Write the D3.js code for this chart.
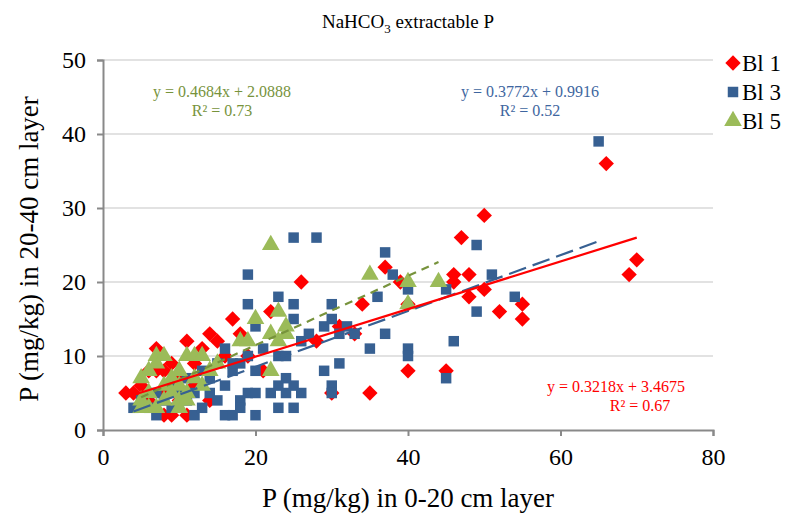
<!DOCTYPE html>
<html>
<head>
<meta charset="utf-8">
<script src="https://cdn.jsdelivr.net/npm/d3@7"></script>
<style>
  body { margin: 0; background: #fff; }
  text { font-family: "Liberation Serif", "Times New Roman", serif; }
</style>
</head>
<body>
<div id="chart"></div>
<script>
// Bl 1 - [x, y]
const bl1 = [[3,5],[4,5],[5,6],[6,8],[6,4],[7,11],[7,8],[8,8],[8,5],[8,2],[9,9],[9,2],[10,7],[10,4],
  [11,12],[11,2],[12,6],[12,9],[13,11],[14,13],[14,4],[15,12],[16,10],[17,15],[18,13],[19,10],[21,8],
  [22,16],[26,20],[28,12],[30,5],[31,14],[33,13],[34,17],[35,5],[37,22],[39,20],[40,17],[40,8],[45,8],
  [46,21],[46,20],[47,26],[48,21],[48,18],[50,29],[50,19],[52,16],[55,17],[55,15],[66,36],[69,21],[70,23]];

// Bl 3
const bl3 = [[4,3],[5,4],[6,3],[7,2],[7,5],[8,4],[9,6],[9,3],[10,5],[11,4],[11,7],[12,2],[12,5],[13,3],
  [13,8],[14,5],[14,7],[15,4],[15,9],[16,2],[16,11],[16,6],[17,2],[17,8],[17,9],[18,4],[18,9],[18,3],
  [19,21],[19,17],[19,5],[19,10],[20,14],[20,5],[20,2],[20,8],[21,11],[22,5],[23,18],[23,6],[23,3],
  [23,10],[24,10],[24,7],[24,5],[25,26],[25,17],[25,15],[25,6],[25,3],[26,5],[26,12],[27,13],[28,26],
  [29,14],[29,8],[30,17],[30,15],[30,6],[30,5],[31,13],[31,9],[32,14],[33,13],[35,11],[36,18],[37,24],
  [37,13],[38,21],[40,19],[40,11],[40,10],[45,19],[45,7],[46,12],[49,25],[49,16],[51,21],[54,18],[65,39]];

// Bl 5
const bl5 = [[5,4],[5,7],[5,3],[6,5],[6,8],[6,3],[7,3],[7,9],[7,10],[8,10],[8,6],[8,4],[9,7],[9,5],
  [10,3],[10,6],[10,8],[10,4],[11,5],[11,10],[11,4],[12,10],[12,7],[13,10],[13,6],[14,8],[15,9],[18,12],
  [19,12],[20,15],[22,25],[22,13],[22,8],[23,16],[23,12],[24,14],[24,13],[35,21],[40,20],[40,17],[44,20]];

// trend lines: slope, intercept, R²
const trends = [
  {name: "Bl 5", slope: 0.4684, icpt: 2.0888, r2: "0.73", data: bl5},
  {name: "Bl 3", slope: 0.3772, icpt: 0.9916, r2: "0.52", data: bl3},
  {name: "Bl 1", slope: 0.3218, icpt: 3.4675, r2: "0.67", data: bl1}
];

const xTicks = [0, 20, 40, 60, 80];
const yTicks = [0, 10, 20, 30, 40, 50];

const W = 789, H = 520;
const margin = {top: 60, right: 76, bottom: 90, left: 103};
const pw = W - margin.left - margin.right, ph = H - margin.top - margin.bottom;

const RED = "#ff0000", BLUE = "#376092", GREEN = "#9bbb59", GREEN_D = "#77933c";
const SERIF = "Liberation Serif";

const svg = d3.select("#chart").append("svg").attr("width", W).attr("height", H);

const x = d3.scaleLinear().domain([0, 80]).range([margin.left, margin.left + pw]);
const y = d3.scaleLinear().domain([0, 50]).range([margin.top + ph, margin.top]);

// 网格线
svg.append("g").selectAll("line").data(yTicks.filter(d => d > 0)).enter().append("line")
  .attr("x1", x(0)).attr("x2", x(80))
  .attr("y1", d => y(d)).attr("y2", d => y(d))
  .attr("stroke", "#d9d9d9").attr("stroke-width", 1.5);

// 坐标轴
const yAxis = svg.append("g").attr("transform", `translate(${x(0)},0)`)
  .call(d3.axisLeft(y).tickValues(yTicks).tickSize(6).tickPadding(11));
const xAxis = svg.append("g").attr("transform", `translate(0,${y(0)})`)
  .call(d3.axisBottom(x).tickValues(xTicks).tickSize(6).tickPadding(12));
[xAxis, yAxis].forEach(a => {
  a.attr("font-family", SERIF).attr("font-size", 24);
  a.select(".domain").attr("stroke", "#898989").attr("stroke-width", 2);
  a.selectAll(".tick line").attr("stroke", "#898989").attr("stroke-width", 2);
  a.selectAll(".tick text").attr("fill", "#000");
});

// 标记
const diamond = d3.symbol().type(d3.symbolDiamond2).size(150);
const square = d3.symbol().type(d3.symbolSquare).size(110);
const triangle = d3.symbol().type(d3.symbolTriangle).size(135);

svg.append("g").selectAll("path").data(bl1).enter().append("path")
  .attr("d", diamond)
  .attr("transform", d => `translate(${x(d[0])},${y(d[1])})`)
  .attr("fill", RED);

svg.append("g").selectAll("path").data(bl3).enter().append("path")
  .attr("d", square)
  .attr("transform", d => `translate(${x(d[0])},${y(d[1])})`)
  .attr("fill", BLUE);

svg.append("g").selectAll("path").data(bl5).enter().append("path")
  .attr("d", triangle)
  .attr("transform", d => `translate(${x(d[0])},${y(d[1])})`)
  .attr("fill", GREEN);

// 趋势线
const lineStyle = {
  "Bl 5": {color: GREEN_D, dash: "8,6"},
  "Bl 3": {color: BLUE, dash: "18,7"},
  "Bl 1": {color: RED, dash: null}
};
trends.forEach(t => {
  const [x0, x1] = d3.extent(t.data, d => d[0]);
  const st = lineStyle[t.name];
  svg.append("line")
    .attr("x1", x(x0)).attr("y1", y(t.slope * x0 + t.icpt))
    .attr("x2", x(x1)).attr("y2", y(t.slope * x1 + t.icpt))
    .attr("stroke", st.color).attr("stroke-width", 2.2)
    .attr("stroke-dasharray", st.dash);
});

// 方程文字
const eqPos = {
  "Bl 5": {cx: 222, cy: 97, cx2: 222, color: GREEN_D},
  "Bl 3": {cx: 530, cy: 97, cx2: 530, color: "#3e66a0"},
  "Bl 1": {cx: 616, cy: 392, cx2: 640, color: RED}
};
trends.forEach(t => {
  const p = eqPos[t.name];
  svg.append("text").attr("x", p.cx).attr("y", p.cy)
    .attr("text-anchor", "middle").attr("fill", p.color).style("font-size", "16px")
    .text(`y = ${t.slope}x + ${t.icpt}`);
  svg.append("text").attr("x", p.cx2).attr("y", p.cy + 19)
    .attr("text-anchor", "middle").attr("fill", p.color).style("font-size", "16px")
    .text(`R² = ${t.r2}`);
});

// 标题
const title = svg.append("text").attr("x", 408).attr("y", 28)
  .attr("text-anchor", "middle").style("font-size", "19px");
title.append("tspan").text("NaHCO");
title.append("tspan").attr("dy", 5).style("font-size", "13px").text("3");
title.append("tspan").attr("dy", -5).text(" extractable P");

// 轴标题
svg.append("text").attr("x", 408).attr("y", 507)
  .attr("text-anchor", "middle").style("font-size", "27px")
  .text("P (mg/kg) in 0-20 cm layer");
svg.append("text").attr("transform", "translate(38,249) rotate(-90)")
  .attr("text-anchor", "middle").style("font-size", "27px")
  .text("P (mg/kg) in 20-40 cm layer");

// 图例
const legend = [
  {label: "Bl 1", sym: diamond, color: RED},
  {label: "Bl 3", sym: square, color: BLUE},
  {label: "Bl 5", sym: triangle, color: GREEN}
];
const lg = svg.append("g").attr("transform", "translate(733,63)");
legend.forEach((l, i) => {
  lg.append("path").attr("d", l.sym).attr("transform", `translate(0,${i * 29})`)
    .attr("fill", l.color);
  lg.append("text").attr("x", 9).attr("y", i * 29 + 8).style("font-size", "23px").text(l.label);
});
</script>
</body>
</html>
